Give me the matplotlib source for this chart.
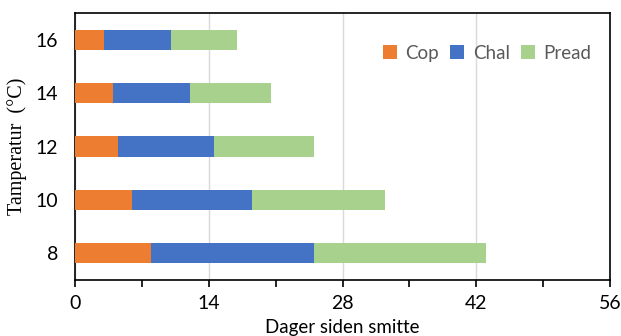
import matplotlib
matplotlib.use("Agg")
import matplotlib.pyplot as plt
from matplotlib.ticker import MultipleLocator
from matplotlib.patches import Patch

temperatures = ["8", "10", "12", "14", "16"]
cop = [8, 6, 4.5, 4, 3]
chal = [17, 12.5, 10, 8, 7]
pread = [18, 14, 10.5, 8.5, 7]

colors = {"Cop": "#ED7D31", "Chal": "#4472C4", "Pread": "#A9D18E"}

plt.rcParams["font.family"] = ["Lato", "DejaVu Sans"]

fig = plt.figure(figsize=(6.21, 3.36), dpi=100)
ax = fig.add_axes([75 / 621, 56 / 336, 535 / 621, 267 / 336])

y = range(len(temperatures))
left = [0] * len(temperatures)
for name, vals in (("Cop", cop), ("Chal", chal), ("Pread", pread)):
    ax.barh(y, vals, left=left, height=0.38, color=colors[name], zorder=3)
    left = [l + v for l, v in zip(left, vals)]

ax.set_xlim(0, 56)
ax.set_ylim(-0.5, 4.5)
ax.set_yticks(list(y))
ax.set_yticklabels(temperatures)
ax.xaxis.set_major_locator(MultipleLocator(14))
ax.xaxis.set_minor_locator(MultipleLocator(7))
ax.tick_params(axis="x", which="both", direction="out", length=5, width=1.2,
               labelsize=14, pad=6, colors="black")
ax.tick_params(axis="y", length=0, labelsize=14, pad=12)
ax.grid(axis="x", which="major", color="#d9d9d9", linewidth=1, zorder=0)
for s in ax.spines.values():
    s.set_color("black")
    s.set_linewidth(1.2)

ax.set_xlabel("Dager siden smitte", fontsize=13.5, labelpad=5)
ax.set_ylabel("Tamperatur  (\u00b0C)", fontsize=14.5,
              family=["Liberation Serif", "DejaVu Serif"], labelpad=6)

handles = [Patch(facecolor=c, label=n) for n, c in colors.items()]
leg = ax.legend(handles=handles, ncol=3, loc="upper right",
                bbox_to_anchor=(0.99, 0.93), frameon=False, fontsize=13.5,
                handlelength=0.75, handleheight=0.75, handletextpad=0.45,
                columnspacing=0.6, labelcolor="#595959", borderpad=0.2)

fig.savefig("out.png", dpi=100)
